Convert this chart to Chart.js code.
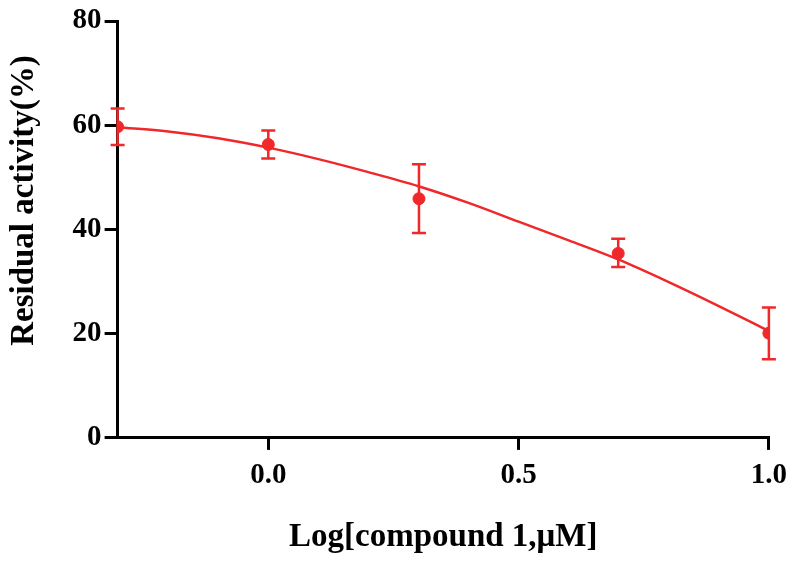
<!DOCTYPE html>
<html>
<head>
<meta charset="utf-8">
<script src="https://cdn.jsdelivr.net/npm/chart.js@4/dist/chart.umd.min.js"></script>
<style>
  html, body { margin: 0; padding: 0; background: #fff; }
  #wrap { width: 791px; height: 563px; }
</style>
</head>
<body>
<div id="wrap"><canvas id="doseChart"></canvas></div>
<script>
// 测量点 (log 浓度)
const logConc = [-0.301, 0, 0.301, 0.699, 1.0];
const activity = [59.7, 56.3, 45.9, 35.4, 20.1];
const errUp = [3.5, 2.7, 6.6, 2.8, 4.9];
const errDown = [3.5, 2.7, 6.6, 2.6, 5.0];

// 拟合曲线
const fitX = [-0.301, -0.2, -0.1, 0, 0.1, 0.2, 0.3, 0.4, 0.5, 0.6, 0.7, 0.8, 0.9, 1.0];
const fitY = [59.6, 58.8, 57.5, 55.7, 53.5, 51.0, 48.3, 45.1, 41.5, 37.9, 34.2, 29.9, 25.3, 20.5];

const xTicks = [0, 0.5, 1.0];
const yTicks = [0, 20, 40, 60, 80];

const RED = 'rgb(240, 40, 42)';
const serif = '"Liberation Serif", "Times New Roman", serif';

// 误差线插件
const errorBars = {
  id: 'errorBars',
  afterDatasetsDraw(chart) {
    const ctx = chart.ctx;
    const xs = chart.scales.x, ys = chart.scales.y;
    ctx.save();
    ctx.strokeStyle = RED;
    ctx.lineWidth = 2.5;
    logConc.forEach((x, i) => {
      const px = xs.getPixelForValue(x);
      const top = ys.getPixelForValue(activity[i] + errUp[i]);
      const bot = ys.getPixelForValue(activity[i] - errDown[i]);
      ctx.beginPath();
      ctx.moveTo(px, top); ctx.lineTo(px, bot);
      ctx.moveTo(px - 7, top); ctx.lineTo(px + 7, top);
      ctx.moveTo(px - 7, bot); ctx.lineTo(px + 7, bot);
      ctx.stroke();
    });
    ctx.restore();
  }
};

const ctx = document.getElementById('doseChart').getContext('2d');
new Chart(ctx, {
  type: 'scatter',
  data: {
    datasets: [{
      label: 'fit',
      data: fitX.map((x, i) => ({ x, y: fitY[i] })),
      showLine: true,
      borderColor: RED,
      borderWidth: 2.5,
      pointRadius: 0,
      cubicInterpolationMode: 'monotone'
    }, {
      label: 'data',
      data: logConc.map((x, i) => ({ x, y: activity[i] })),
      showLine: false,
      pointRadius: 6,
      pointBackgroundColor: RED,
      pointBorderColor: RED
    }]
  },
  options: {
    responsive: true,
    maintainAspectRatio: false,
    animation: false,
    layout: { padding: { left: 0, right: 17, top: 21, bottom: 0 } },
    plugins: { legend: { display: false }, tooltip: { enabled: false } },
    scales: {
      x: {
        type: 'linear',
        min: -0.301,
        max: 1.0,
        afterBuildTicks: s => { s.ticks = xTicks.map(v => ({ value: v })); },
        ticks: {
          color: '#000',
          padding: 4,
          // 行高加大，把刻度文字往下推
          font: { family: serif, size: 29, weight: 'bold', lineHeight: 1.5 },
          callback: v => Number(v).toFixed(1)
        },
        grid: { drawOnChartArea: false, color: '#000', lineWidth: 3, tickLength: 12 },
        border: { color: '#000', width: 3 },
        title: {
          display: true,
          text: 'Log[compound 1,μM]',
          color: '#000',
          font: { family: serif, size: 33, weight: 'bold' },
          padding: { top: 16, bottom: 6 }
        }
      },
      y: {
        min: 0,
        max: 80,
        afterBuildTicks: s => { s.ticks = yTicks.map(v => ({ value: v })); },
        ticks: {
          color: '#000',
          padding: 3,
          font: { family: serif, size: 29, weight: 'bold' }
        },
        grid: { drawOnChartArea: false, color: '#000', lineWidth: 3, tickLength: 13 },
        border: { color: '#000', width: 3 },
        title: {
          display: true,
          // 前置空格让标题略微上移
          text: '       Residual activity(%)',
          color: '#000',
          font: { family: serif, size: 33, weight: 'bold' },
          padding: { top: 5, bottom: 25 }
        }
      }
    }
  },
  plugins: [errorBars]
});
</script>
</body>
</html>
